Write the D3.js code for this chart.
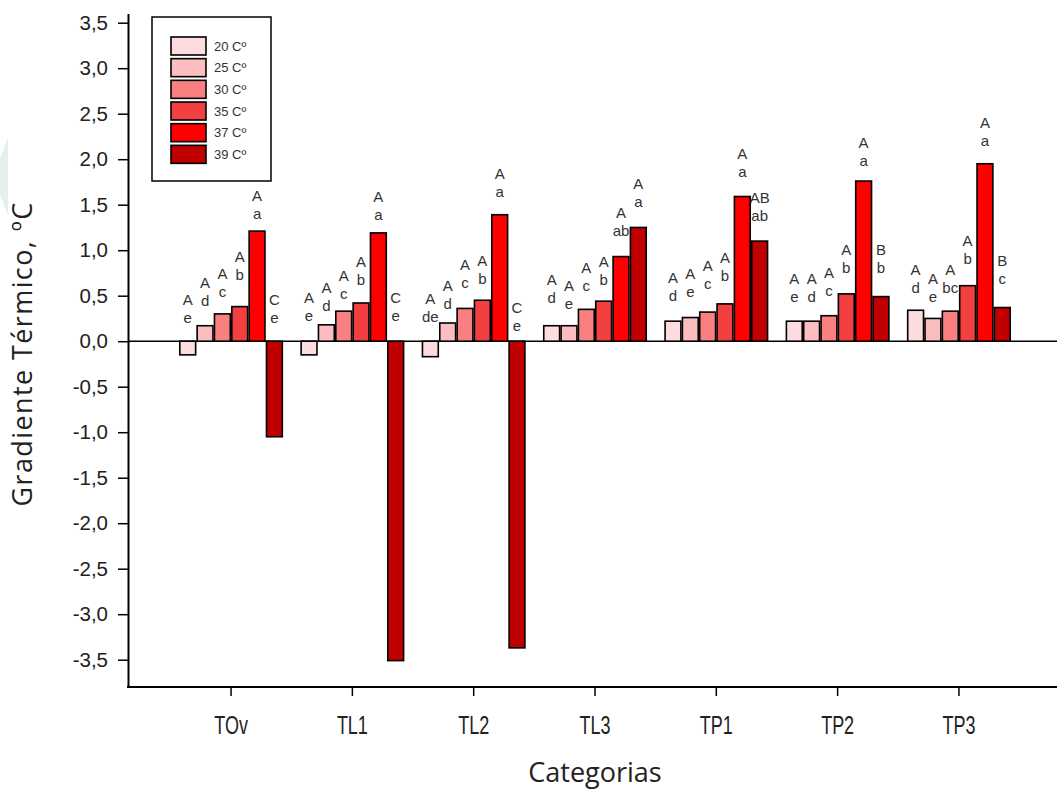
<!DOCTYPE html>
<html>
<head>
<meta charset="utf-8">
<script src="https://cdn.jsdelivr.net/npm/d3@7"></script>
<style>
  body { margin: 0; background: #fff; }
  svg { display: block; }
  .ytick text { font-family: "Liberation Sans", Arial, sans-serif; font-size: 20.5px; fill: #222; }
  .xtick text { font-family: "Liberation Sans", Arial, sans-serif; font-size: 25px; fill: #222; }
  .letter { font-family: "Liberation Sans", Arial, sans-serif; font-size: 15px; fill: #333; text-anchor: middle; }
  .title { font-family: "Open Sans", "Noto Sans", sans-serif; font-size: 27px; fill: #222; }
</style>
</head>
<body>
<div id="chart"></div>
<script>
// categories and series
var categories = ["TOv", "TL1", "TL2", "TL3", "TP1", "TP2", "TP3"];
var series = ["20 C\u00ba", "25 C\u00ba", "30 C\u00ba", "35 C\u00ba", "37 C\u00ba", "39 C\u00ba"];
var colors = ["#fcdcde", "#fbbdbf", "#f88080", "#f24040", "#ff0000", "#c00000"];

// gradiente termico, one array per category (20, 25, 30, 35, 37, 39 C)
var TOv = [-0.15, 0.17, 0.30, 0.38, 1.21, -1.05];
var TL1 = [-0.15, 0.18, 0.33, 0.42, 1.19, -3.51];
var TL2 = [-0.17, 0.20, 0.36, 0.45, 1.39, -3.37];
var TL3 = [0.17, 0.17, 0.35, 0.44, 0.93, 1.25];
var TP1 = [0.22, 0.26, 0.32, 0.41, 1.59, 1.10];
var TP2 = [0.22, 0.22, 0.28, 0.52, 1.76, 0.49];
var TP3 = [0.34, 0.25, 0.33, 0.61, 1.95, 0.37];
var values = [TOv, TL1, TL2, TL3, TP1, TP2, TP3];

// error extents (bars not drawn, letters sit above them)
var errs = [
  [0.10, 0.12, 0.09, 0.20, 0.04, 0.10],
  [0.13, 0.06, 0.04, 0.10, 0.05, 0.13],
  [0.11, 0.06, 0.13, 0.08, 0.10, 0.02],
  [0.15, 0.09, 0.11, 0.08, 0.13, 0.13],
  [0.13, 0.13, 0.16, 0.15, 0.12, 0.13],
  [0.12, 0.12, 0.12, 0.13, 0.07, 0.16],
  [0.09, 0.09, 0.10, 0.14, 0.10, 0.16]
];

// letters from the mean comparison
var upper = [
  ["A", "A", "A", "A", "A", "C"],
  ["A", "A", "A", "A", "A", "C"],
  ["A", "A", "A", "A", "A", "C"],
  ["A", "A", "A", "A", "A", "A"],
  ["A", "A", "A", "A", "A", "AB"],
  ["A", "A", "A", "A", "A", "B"],
  ["A", "A", "A", "A", "A", "B"]
];
var lower = [
  ["e", "d", "c", "b", "a", "e"],
  ["e", "d", "c", "b", "a", "e"],
  ["de", "d", "c", "b", "a", "e"],
  ["d", "e", "c", "b", "ab", "a"],
  ["d", "e", "c", "b", "a", "ab"],
  ["e", "d", "c", "b", "a", "b"],
  ["d", "e", "bc", "b", "a", "c"]
];

var yTicks = d3.range(-3.5, 3.51, 0.5);

var W = 1057, H = 789;
var svg = d3.select("#chart").append("svg")
  .attr("width", W)
  .attr("height", H);

// faint watermark at the left edge
svg.append("path")
  .attr("d", "M0,158 L8,138 L8,215 L0,195 Z")
  .attr("fill", "#e6f0ea");

var y = d3.scaleLinear().domain([-3.8, 3.6]).range([687, 13.6]);
var x = d3.scaleBand().domain(categories).range([170.4, 1019.6]).padding(0);
var xs = d3.scaleBand().domain(series).range([0, x.bandwidth()])
  .paddingInner(0).paddingOuter(0.5);

var comma = d3.formatLocale({decimal: ",", thousands: ".", grouping: [3], currency: ["", ""], minus: "-"}).format(".1f");

// y axis
var yAxis = svg.append("g")
  .attr("class", "ytick")
  .attr("transform", "translate(128,0)")
  .call(d3.axisLeft(y).tickValues(yTicks).tickFormat(comma).tickSize(10).tickSizeOuter(0).tickPadding(10));
yAxis.selectAll("line").attr("stroke", "#000").attr("stroke-width", 1.5);
yAxis.select(".domain").attr("stroke", "#000").attr("stroke-width", 2);

// x axis, narrow labels
var xAxis = svg.append("g")
  .attr("class", "xtick")
  .attr("transform", "translate(0,687)")
  .call(d3.axisBottom(x).tickSize(9).tickPadding(20));
xAxis.select(".domain").remove();
xAxis.selectAll("line").attr("stroke", "#000").attr("stroke-width", 1.5);
xAxis.selectAll("text").attr("transform", "scale(0.72,1)");
svg.append("line")
  .attr("x1", 127).attr("x2", W)
  .attr("y1", 687).attr("y2", 687)
  .attr("stroke", "#000").attr("stroke-width", 2);

// zero line
svg.append("line")
  .attr("x1", 128).attr("x2", W)
  .attr("y1", y(0)).attr("y2", y(0))
  .attr("stroke", "#000").attr("stroke-width", 1.5);

// bars
var groups = svg.selectAll(".grp")
  .data(categories)
  .enter().append("g")
  .attr("class", "grp")
  .attr("transform", function (d) { return "translate(" + x(d) + ",0)"; });

groups.each(function (cat, ci) {
  var g = d3.select(this);
  var rows = series.map(function (s, si) {
    return {s: s, si: si, v: values[ci][si], e: errs[ci][si], up: upper[ci][si], lo: lower[ci][si]};
  });

  g.selectAll("rect")
    .data(rows)
    .enter().append("rect")
    .attr("x", function (d) { return xs(d.s) + 0.75; })
    .attr("width", xs.bandwidth() - 1.5)
    .attr("y", function (d) { return y(Math.max(d.v, 0)); })
    .attr("height", function (d) { return Math.abs(y(d.v) - y(0)); })
    .attr("fill", function (d) { return colors[d.si]; })
    .attr("stroke", "#000")
    .attr("stroke-width", 1.6);

  var lab = g.selectAll(".lab")
    .data(rows)
    .enter().append("g")
    .attr("class", "lab")
    .attr("transform", function (d) {
      return "translate(" + (xs(d.s) + xs.bandwidth() / 2) + "," + (y(Math.max(d.v, 0) + d.e) - 14) + ")";
    });
  lab.append("text")
    .attr("class", "letter")
    .attr("dy", "0.35em")
    .text(function (d) { return d.lo; });
  lab.append("text")
    .attr("class", "letter")
    .attr("y", -18)
    .attr("dy", "0.35em")
    .text(function (d) { return d.up; });
});

// legend
var legend = svg.append("g").attr("transform", "translate(152,17)");
legend.append("rect")
  .attr("width", 119).attr("height", 164)
  .attr("fill", "#fff").attr("stroke", "#000").attr("stroke-width", 1.5);
var li = legend.selectAll(".li")
  .data(series)
  .enter().append("g")
  .attr("class", "li")
  .attr("transform", function (d, i) { return "translate(19," + (20 + i * 21.67) + ")"; });
li.append("rect")
  .attr("width", 35).attr("height", 18)
  .attr("fill", function (d, i) { return colors[i]; })
  .attr("stroke", "#000").attr("stroke-width", 1.6);
li.append("text")
  .attr("x", 43).attr("y", 9).attr("dy", "0.35em")
  .style("font-family", "'Liberation Sans', Arial, sans-serif")
  .style("font-size", "13px")
  .attr("fill", "#333")
  .text(function (d) { return d; });

// axis titles
svg.append("text")
  .attr("class", "title")
  .attr("transform", "translate(32,354) rotate(-90)")
  .attr("text-anchor", "middle")
  .style("letter-spacing", "1.4px")
  .text("Gradiente Térmico, ºC");
svg.append("text")
  .attr("class", "title")
  .attr("x", 595).attr("y", 782)
  .attr("text-anchor", "middle")
  .text("Categorias");
</script>
</body>
</html>
